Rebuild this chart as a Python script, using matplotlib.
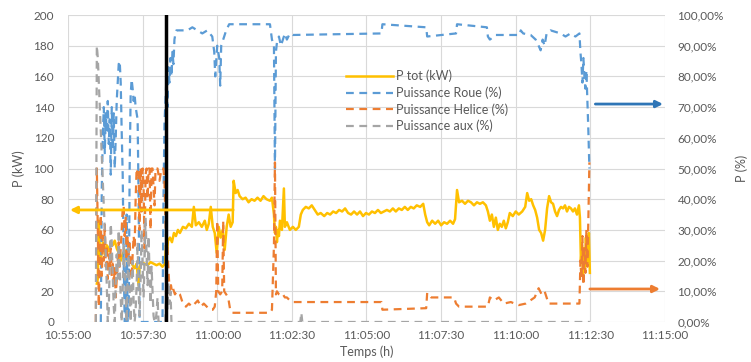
import matplotlib.pyplot as plt

plt.rcParams['font.family'] = ['Lato', 'DejaVu Sans']

# time axis: seconds after 10:55:00
tick_pos = [0, 150, 300, 450, 600, 750, 900, 1050, 1200]
tick_labels = ["10:55:00", "10:57:30", "11:00:00", "11:02:30", "11:05:00",
               "11:07:30", "11:10:00", "11:12:30", "11:15:00"]
kw_ticks = [0, 20, 40, 60, 80, 100, 120, 140, 160, 180, 200]
pct_ticks = [0, 10, 20, 30, 40, 50, 60, 70, 80, 90, 100]
pct_labels = ["0,00%", "10,00%", "20,00%", "30,00%", "40,00%", "50,00%",
              "60,00%", "70,00%", "80,00%", "90,00%", "100,00%"]

# P tot (kW)
t_tot = [58, 60, 62, 64, 66, 70, 74, 78, 82, 86, 90, 94, 98, 102, 106, 110, 114, 118,
         122, 126, 130, 134, 138, 142, 144, 148, 154, 160, 166, 172, 178, 184, 190, 195,
         197, 199, 201, 205, 209, 213, 217, 221, 225, 231, 237, 243, 249, 253, 257, 263,
         269, 275, 279, 283, 287, 291, 295, 299, 303, 307, 311, 315, 319, 323, 327, 331,
         333, 337, 341, 345, 351, 357, 363, 369, 375, 381, 387, 393, 399, 406, 410, 414,
         416, 418, 420, 422, 424, 426, 430, 434, 436, 440, 446, 452, 458, 464, 468, 472,
         478, 484, 490, 496, 502, 508, 515, 521, 527, 533, 539, 545, 551, 557, 563, 569,
         575, 581, 587, 593, 599, 605, 611, 617, 623, 629, 635, 641, 647, 653, 659, 665,
         671, 677, 683, 689, 695, 701, 708, 714, 718, 722, 726, 732, 738, 744, 750, 756,
         762, 768, 774, 778, 782, 786, 792, 798, 804, 810, 816, 822, 828, 834, 840, 844,
         848, 852, 856, 860, 864, 868, 872, 876, 880, 884, 888, 894, 900, 906, 913, 919,
         923, 927, 931, 935, 939, 943, 947, 951, 955, 959, 963, 967, 971, 975, 979, 983,
         987, 991, 995, 999, 1003, 1007, 1011, 1015, 1019, 1023, 1027, 1029, 1031, 1033,
         1035, 1037, 1039, 1041, 1043, 1045, 1047, 1049]
p_tot = [25, 28, 66, 48, 40, 52, 44, 50, 46, 52, 50, 53, 48, 45, 40, 44, 47, 42,
         38, 40, 37, 35, 38, 24, 36, 39, 38, 37, 39, 38, 37, 38, 36, 38,
         50, 45, 53, 55, 52, 58, 56, 60, 58, 62, 61, 64, 62, 75, 63, 65,
         62, 66, 60, 64, 75, 62, 58, 45, 62, 55, 60, 47, 62, 70, 62, 65,
         92, 84, 86, 82, 80, 81, 78, 80, 79, 81, 79, 82, 80, 79, 81, 70,
         58, 62, 52, 60, 56, 66, 60, 87, 62, 65, 60, 62, 60, 62, 70, 73,
         75, 74, 76, 73, 70, 71, 69, 71, 70, 72, 71, 73, 72, 74, 71, 70,
         72, 70, 72, 69, 71, 70, 72, 71, 73, 71, 72, 73, 72, 74, 72, 74,
         73, 75, 73, 75, 74, 76, 75, 77, 70, 65, 63, 66, 64, 66, 63, 65,
         64, 66, 64, 67, 86, 78, 79, 77, 79, 78, 76, 78, 77, 78, 76, 72,
         66, 70, 62, 68, 60, 64, 62, 66, 61, 65, 71, 69, 72, 70, 72, 75,
         84, 79, 80, 76, 73, 68, 60, 58, 53, 60, 74, 82, 78, 77, 72, 69,
         73, 75, 74, 76, 72, 75, 74, 72, 74, 70, 76, 68, 40, 50,
         30, 48, 34, 55, 38, 45, 58, 32]

# Puissance Roue (%)
t_roue = [66, 68, 70, 72, 74, 76, 78, 80, 82, 84, 86, 88, 90, 92, 94, 96, 98, 100,
          102, 104, 106, 108, 110, 112, 114, 116, 118, 120, 122, 124, 126, 128, 130,
          132, 134, 136, 138, 140, 142, 144, 190, 192, 194, 196, 198, 200, 202, 204,
          206, 208, 210, 212, 214, 216, 218, 240, 250, 260, 270, 280, 290, 294, 296,
          298, 300, 304, 306, 308, 312, 318, 324, 406, 410, 414, 416, 418, 420, 424,
          428, 432, 436, 440, 446, 452, 630, 632, 720, 722, 780, 782, 842, 844, 848,
          860, 908, 910, 915, 930, 940, 946, 950, 954, 958, 962, 970, 990, 1000, 1010,
          1020, 1028, 1030, 1032, 1034, 1036, 1038, 1040, 1042, 1044, 1046, 1048]
p_roue = [0, 44, 60, 70, 55, 68, 62, 72, 58, 66, 48, 70, 56, 68, 50, 60, 72, 78,
          84, 85, 78, 62, 48, 20, 0, 0, 35, 0, 0, 50, 74, 79, 76,
          72, 74, 70, 68, 66, 40, 0, 0, 40, 65, 72, 80, 70, 83, 78,
          86, 80, 88, 84, 92, 94, 95, 95, 96, 95, 94, 95, 93, 88, 80,
          85, 90, 86, 77, 90, 92, 95, 97, 97, 92, 90, 50, 88, 91, 93,
          90, 92, 94, 92, 94, 93.5, 94, 97, 96, 93, 94, 97, 96, 93, 92,
          93.5, 93.5, 95, 94, 93.5, 92, 90, 88.5, 92, 90, 94, 95, 94, 93, 94,
          93, 94, 88, 84, 78, 86, 80, 76, 82, 72, 62, 50]

# Puissance Helice (%)
t_hel = [56, 58, 60, 62, 64, 66, 68, 70, 72, 74, 76, 78, 80, 82, 84, 86, 88, 90,
         92, 94, 96, 98, 100, 102, 104, 106, 108, 110, 112, 114, 116, 118, 120, 122,
         124, 126, 128, 130, 132, 134, 136, 138, 140, 142, 144, 146, 148, 150, 152,
         154, 156, 158, 160, 162, 164, 166, 168, 170, 174, 176, 180, 184, 188, 192,
         194, 197, 199, 201, 203, 205, 207, 209, 211, 215, 219, 225, 231, 237, 243,
         249, 255, 261, 267, 273, 279, 285, 291, 295, 298, 300, 302, 306, 310, 312,
         314, 318, 322, 326, 330, 406, 410, 414, 416, 418, 420, 424, 428, 432, 436,
         440, 446, 452, 630, 632, 720, 722, 730, 776, 780, 786, 844, 848, 856, 866,
         876, 890, 906, 920, 938, 946, 952, 958, 966, 980, 1000, 1020, 1028, 1030,
         1032, 1034, 1036, 1038, 1040, 1042, 1044, 1046, 1048]
p_hel = [0, 50, 30, 5, 22, 35, 15, 28, 20, 32, 18, 25, 14, 22, 18, 24, 15, 20,
         12, 18, 8, 14, 20, 26, 18, 24, 30, 37, 38, 28, 34, 20, 28, 22,
         26, 18, 14, 22, 28, 24, 40, 50, 48, 50, 30, 50, 36, 50, 44,
         24, 48, 50, 40, 50, 50, 30, 50, 50, 38, 50, 50, 46, 50, 50,
         45, 28, 26, 20, 14, 9, 12, 10, 11, 9, 10, 9, 6, 5, 6,
         5, 6, 7, 5, 6, 5, 4, 4, 5, 10, 33, 10, 9, 10, 33,
         10, 9, 8, 4, 3, 3, 4, 25, 52, 9, 10, 9, 8.5, 9, 8,
         8, 7, 6.5, 6.5, 4, 4.5, 9.5, 8, 8, 6, 5, 5, 8, 7, 8,
         6, 6.5, 5.5, 6, 8, 11, 9, 10, 6, 6, 6, 6, 6, 20,
         14, 28, 12, 24, 16, 30, 18, 34, 52]

# Puissance aux (%)
t_aux = [56, 58, 60, 62, 64, 66, 68, 70, 72, 74, 76, 78, 80, 82, 84, 86, 88, 90,
         92, 94, 96, 98, 100, 102, 104, 106, 108, 110, 112, 114, 116, 118, 120, 122,
         124, 126, 128, 130, 132, 134, 136, 138, 140, 142, 144, 146, 148, 150, 152,
         154, 156, 158, 160, 162, 164, 166, 168, 170, 172, 174, 176, 178, 180, 182,
         196, 198, 200, 202, 204, 206, 208, 467, 469, 471, 1049]
p_aux = [0, 90, 86, 78, 70, 62, 54, 46, 38, 30, 22, 12, 0, 4, 20, 32, 26, 15,
         5, 0, 12, 22, 14, 30, 18, 8, 0, 10, 26, 18, 8, 0, 16, 24,
         10, 0, 12, 20, 6, 0, 4, 12, 26, 10, 2, 14, 30, 18, 8,
         20, 34, 22, 12, 28, 16, 6, 18, 10, 2, 0, 0, 3, 8, 0,
         0, 12, 4, 13, 6, 10, 0, 0, 3, 0, 0]

# annotations
marker_time = 197
arrow_tot = (332, 4, 73)        # from t, to t, kW
arrow_roue = (1060, 1196, 71)   # from t, to t, %
arrow_hel = (1049, 1190, 10.75)

yellow = '#FFC000'
blue = '#5B9BD5'
orange = '#ED7D31'
gray = '#A5A5A5'
txt = '#595959'

fig = plt.figure(figsize=(7.51, 3.62), dpi=100)
ax = fig.add_axes([0.0905, 0.1105, 0.795, 0.848])
ax2 = ax.twinx()

dash = (3.5, 2.5)
ax.plot(t_tot, p_tot, color=yellow, lw=1.8, label='P tot (kW)')
l1, = ax2.plot(t_roue, p_roue, color=blue, lw=1.6, dashes=dash, label='Puissance Roue (%)')
l2, = ax2.plot(t_hel, p_hel, color=orange, lw=1.6, dashes=dash, label='Puissance Helice (%)')
l3, = ax2.plot(t_aux, p_aux, color=gray, lw=1.6, dashes=dash, label='Puissance aux (%)')

ax2.axvline(marker_time, color='black', lw=2.5, zorder=5)

ax2.annotate('', xy=(arrow_tot[1], arrow_tot[2]), xytext=(arrow_tot[0], arrow_tot[2]),
             xycoords=ax.transData, textcoords=ax.transData,
             arrowprops=dict(arrowstyle='-|>', color=yellow, lw=2, mutation_scale=10,
                             shrinkA=0, shrinkB=0), zorder=6)
ax2.annotate('', xy=(arrow_roue[1], arrow_roue[2]), xytext=(arrow_roue[0], arrow_roue[2]),
             arrowprops=dict(arrowstyle='-|>', color='#2E75B6', lw=2, mutation_scale=10,
                             shrinkA=0, shrinkB=0), annotation_clip=False, zorder=6)
ax2.annotate('', xy=(arrow_hel[1], arrow_hel[2]), xytext=(arrow_hel[0], arrow_hel[2]),
             arrowprops=dict(arrowstyle='-|>', color=orange, lw=2, mutation_scale=10,
                             shrinkA=0, shrinkB=0), annotation_clip=False, zorder=6)

ax.set_xlim(0, 1200)
ax.set_ylim(0, 200)
ax2.set_ylim(0, 100)
ax.set_xticks(tick_pos)
ax.set_xticklabels(tick_labels)
ax.set_yticks(kw_ticks)
ax2.set_yticks(pct_ticks)
ax2.set_yticklabels(pct_labels)

ax.grid(True, color='#D9D9D9', lw=0.8)
ax.set_axisbelow(True)
for a in (ax, ax2):
    for s in a.spines.values():
        s.set_visible(False)
    a.tick_params(length=0, labelsize=8.5, colors=txt)
ax.tick_params(axis='y', pad=10)
ax.tick_params(axis='x', pad=6)
ax2.tick_params(axis='y', pad=9)

ax.set_ylabel('P (kW)', fontsize=9, color=txt, labelpad=6)
ax2.set_ylabel('P (%)', fontsize=9, color=txt, labelpad=8)
ax.set_xlabel('Temps (h)', fontsize=9, color=txt, labelpad=3)

handles = [ax.get_lines()[0], l1, l2, l3]
leg = ax2.legend(handles=handles, loc='upper left', bbox_to_anchor=(0.458, 0.838),
                 frameon=False, fontsize=9, handlelength=3.7, handletextpad=0.3,
                 labelspacing=0.33, borderaxespad=0)
for t in leg.get_texts():
    t.set_color(txt)

fig.savefig('out.png', dpi=100)
